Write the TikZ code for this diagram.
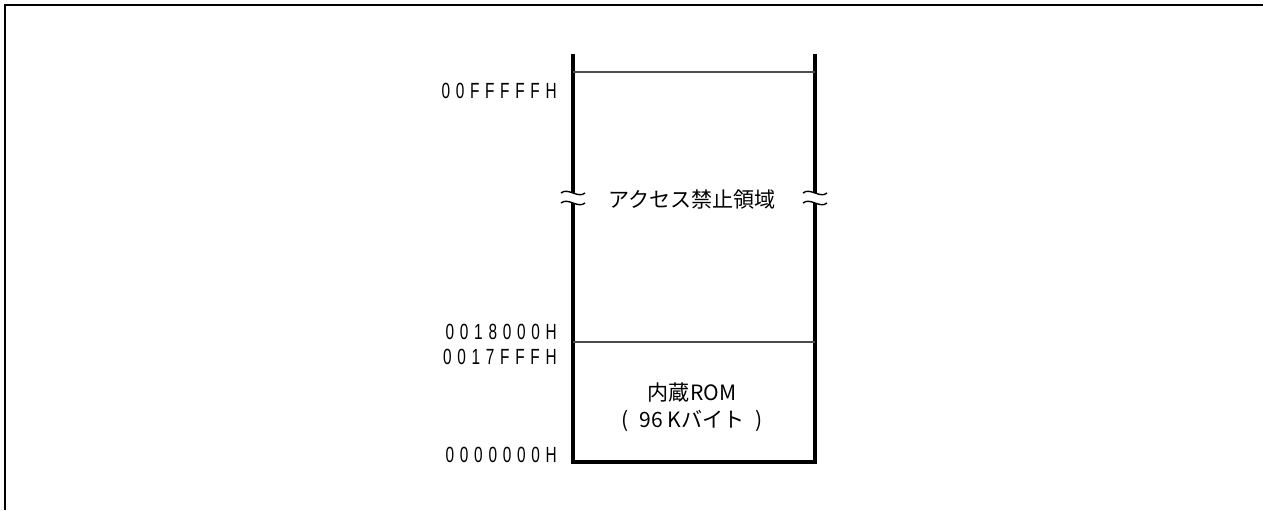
\documentclass[tikz,border=0pt]{standalone}
\usepackage{fontspec}
\setmainfont{Liberation Sans}
\newfontfamily\jpfont{Noto Sans CJK JP}
\newfontfamily\addrfont[FakeStretch=0.7,LetterSpace=26]{Liberation Sans}

\begin{document}
\begin{tikzpicture}[x=0.02cm,y=-0.02cm]
      \tikzstyle{every node}=[inner sep=0pt]
      \tikzstyle{addr}=[anchor=east,font=\addrfont\fontsize{12.5}{14}\selectfont]
      \tikzstyle{area}=[font=\jpfont\fontsize{12}{15.5}\selectfont,align=center]
      \tikzstyle{wall}=[line width=1.8pt]
      \tikzstyle{border}=[line width=0.6pt,black!70]
      \tikzstyle{gap}=[line width=0.8pt]
      \useasboundingbox (0,0) rectangle (1263,510);
      %% Frame
      \draw[line width=1.3pt] (5,510) -- (5,5) -- (1263,5);
      %% Map corners and breaks
      \coordinate (lt) at (573,54);
      \coordinate (rt) at (815,54);
      \coordinate (lb) at (573,462);
      \coordinate (rb) at (815,462);
      \coordinate (lu) at (573,193);
      \coordinate (ru) at (815,193);
      \coordinate (ll) at (573,203);
      \coordinate (rl) at (815,203);
      % walls
      \draw[wall] (lt) -- (lu);
      \draw[wall] (rt) -- (ru);
      \draw[wall] (ll) -- (lb) -- (rb) -- (rl);
      % break marks
      \foreach \x in {573,815}
        \foreach \y in {193,203}
          \draw[gap] (\x-12,\y) .. controls (\x-5,\y-6) and (\x+5,\y+6) .. (\x+12,\y);
      % boundaries
      \coordinate (b1l) at (573,72);
      \coordinate (b1r) at (815,72);
      \coordinate (b2l) at (573,342);
      \coordinate (b2r) at (815,342);
      \draw[border] (b1l) -- (b1r);
      \draw[border] (b2l) -- (b2r);
      %% Addresses
      \node[addr] (aend) at (557,91) {00FFFFFH};
      \node[addr] (anext) at (557,332) {0018000H};
      \node[addr] (arom) at (557,357) {0017FFFH};
      \node[addr] (azero) at (557,455) {0000000H};
      %% Areas
      \node[area] (resv) at (692,200) {アクセス禁止領域};
      \node[area] (rom) at (692,407) {内蔵ROM\\(\hspace{0.22cm}96 Kバイト\hspace{0.22cm})};
\end{tikzpicture}
\end{document}
